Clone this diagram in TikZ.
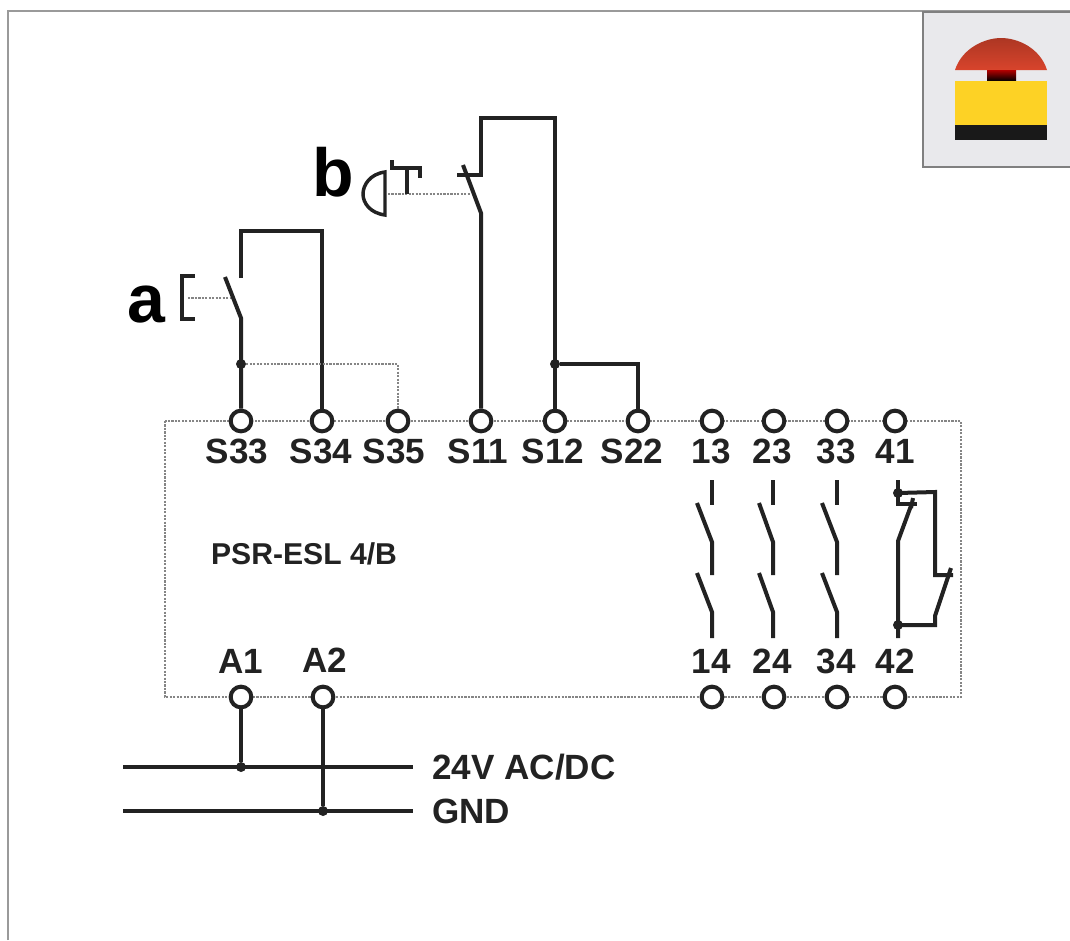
\documentclass[tikz,border=0pt]{standalone}
\usepackage{fontspec}
\setmainfont{Liberation Sans}

\definecolor{wirecol}{HTML}{222222}
\definecolor{framecol}{HTML}{9A9A9A}
\definecolor{iconback}{HTML}{E9E9EC}
\definecolor{iconyellow}{HTML}{FDD225}
\definecolor{iconred}{HTML}{D8442C}

\tikzset{
  term/.style={circle,draw=wirecol,line width=3pt,fill=white,minimum size=15.5pt,inner sep=0pt},
  termlab/.style={font=\bfseries\fontsize{26.3}{28}\selectfont,text=wirecol,inner sep=0pt},
  biglab/.style={font=\bfseries\fontsize{51}{53}\selectfont,text=black,inner sep=0pt},
  wire/.style={draw=wirecol,line width=3pt},
  thinwire/.style={draw=wirecol,line width=2.6pt},
  linkdot/.style={draw=wirecol!55,line width=1.6pt,densely dotted},
  jdot/.style={circle,fill=wirecol,minimum size=7.5pt,inner sep=0pt},
}

\begin{document}
\begin{tikzpicture}[x=0.75pt,y=-0.75pt]

  \useasboundingbox (0,0) rectangle (1070,940);
  \fill[white] (0,0) rectangle (1070,940);

  % frame
  \draw[draw=framecol,line width=2.2pt] (8,940)--(8,11)--(1070,11);

  % icon
  \draw[draw=gray,fill=iconback,line width=1.2pt] (1070,12)--(923,12)--(923,167)--(1070,167);
  \path[top color=iconred!80!black,bottom color=iconred] (955,70) .. controls (962,48) and (985,38) .. (1001,38) .. controls (1018,38) and (1040,48) .. (1047,70) -- cycle;
  \path[top color=red!70!black,bottom color=black] (987,70) rectangle (1016,81);
  \fill[iconyellow] (955,81) rectangle (1047,125);
  \fill[black!90] (955,125) rectangle (1047,140);

  % module outline
  \draw[linkdot] (165,421) rectangle (961,697);

  % terminals
  \node[term] (s33) at (241,421) {};
  \node[term] (s34) at (322,421) {};
  \node[term] (s35) at (398,421) {};
  \node[term] (s11) at (481,421) {};
  \node[term] (s12) at (555,421) {};
  \node[term] (s22) at (638,421) {};
  \node[term] (t13) at (712,421) {};
  \node[term] (t23) at (774,421) {};
  \node[term] (t33) at (837,421) {};
  \node[term] (t41) at (895,421) {};

  \node[term] (a1) at (241,697) {};
  \node[term] (a2) at (323,697) {};
  \node[term] (t14) at (712,697) {};
  \node[term] (t24) at (774,697) {};
  \node[term] (t34) at (837,697) {};
  \node[term] (t42) at (895,697) {};

  \node[termlab] (ls33) at (237,451) {S33};
  \node[termlab] (ls34) at (321,451) {S34};
  \node[termlab] (ls35) at (394,451) {S35};
  \node[termlab] (ls11) at (478,451) {S11};
  \node[termlab] (ls12) at (553,451) {S12};
  \node[termlab] (ls22) at (632,451) {S22};
  \node[termlab] (l13) at (711,451) {13};
  \node[termlab] (l23) at (772,451) {23};
  \node[termlab] (l33) at (836,451) {33};
  \node[termlab] (l41) at (895,451) {41};

  \node[termlab] (la1) at (241,661) {A1};
  \node[termlab] (la2) at (325,660) {A2};
  \node[termlab] (l14) at (711,661) {14};
  \node[termlab] (l24) at (772,661) {24};
  \node[termlab] (l34) at (836,661) {34};
  \node[termlab] (l42) at (895,661) {42};

  \node[font=\bfseries\fontsize{22.6}{24}\selectfont,text=wirecol,inner sep=0pt] (psr) at (304,554) {PSR-ESL 4/B};
  \node[biglab] (la) at (146,305) {a};
  \node[biglab] (lb) at (333,172) {b};

  % switch a
  \coordinate (ahinge) at (241,318);
  \coordinate (jsa) at (241,364);
  \draw[wire] (241,278)--(241,231)--(322,231)--(s34);
  \draw[wire] (225,277)--(ahinge)--(jsa)--(s33);
  \draw[linkdot] (188,298)--(230,298);
  \draw[thinwire] (195,276)--(182,276)--(182,319)--(195,319);
  \node[jdot] (ja) at (jsa) {};
  \draw[linkdot] (ja)--(398,364)--(s35);

  % switch b
  \coordinate (bhinge) at (481,213);
  \coordinate (jsb) at (555,364);
  \draw[wire] (457,175)--(481,175)--(481,118)--(555,118)--(jsb)--(s12);
  \draw[wire] (463,165)--(bhinge)--(s11);
  \node[jdot] (jb) at (jsb) {};
  \draw[wire] (jb)--(638,364)--(s22);
  \draw[linkdot] (388,194)--(470,194);
  \draw[thinwire] (385,172) .. controls (370,174) and (363,185) .. (363,194) .. controls (363,203) and (370,213) .. (385,215) -- cycle;
  \draw[thinwire] (407,194)--(407,168);
  \draw[thinwire] (392,160)--(392,168)--(420,168)--(420,178);

  % contacts
  \draw[wire] (712,480)--(712,505);
  \draw[wire] (697,503)--(712,542)--(712,575);
  \draw[wire] (697,573)--(712,612)--(712,638);

  \draw[wire] (773,480)--(773,505);
  \draw[wire] (759,503)--(773,542)--(773,575);
  \draw[wire] (759,573)--(773,612)--(773,638);

  \draw[wire] (837,480)--(837,505);
  \draw[wire] (822,503)--(837,542)--(837,575);
  \draw[wire] (822,573)--(837,612)--(837,638);

  \coordinate (jstop) at (898,493);
  \coordinate (jsbot) at (898,625);
  \draw[wire] (898,480)--(898,504)--(917,504);
  \draw[wire] (912,503)--(898,541)--(898,638);
  \draw[wire] (913,498)--(911,508);
  \draw[wire] (jstop)--(935,492)--(935,575)--(953,575);
  \draw[wire] (951,568)--(935,616)--(935,625)--(jsbot);
  \node[jdot] (jt) at (jstop) {};
  \node[jdot] (jl) at (jsbot) {};

  % supply
  \coordinate (end24) at (413,767);
  \coordinate (endgnd) at (413,811);
  \node[jdot] (j24) at (241,767) {};
  \node[jdot] (jgnd) at (323,811) {};
  \draw[wire] (123,767)--(end24);
  \draw[thinwire] (123,811)--(endgnd);
  \draw[wire] (a1)--(j24);
  \draw[wire] (a2)--(jgnd);
  \node[termlab,anchor=west] (l24v) at (432,767) {24V AC/DC};
  \node[termlab,anchor=west] (lgnd) at (432,811) {GND};

\end{tikzpicture}
\end{document}
